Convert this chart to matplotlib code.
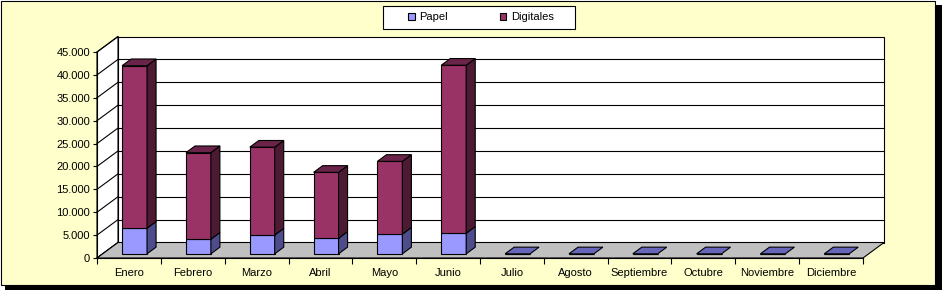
import numpy as np
import matplotlib
matplotlib.use("Agg")
import matplotlib.pyplot as plt
from matplotlib.patches import Rectangle, Polygon, Patch

plt.rcParams['font.family'] = ['Liberation Sans', 'DejaVu Sans']

meses = ["Enero", "Febrero", "Marzo", "Abril", "Mayo", "Junio", "Julio",
         "Agosto", "Septiembre", "Octubre", "Noviembre", "Diciembre"]
papel = [5600, 3200, 4100, 3400, 4300, 4500, 0, 0, 0, 0, 0, 0]
digitales = [35500, 18900, 19200, 14400, 15900, 36700, 0, 0, 0, 0, 0, 0]
yticks = list(range(0, 45001, 5000))

# colores estilo excel
c_papel = ("#9999FF", "#4D4D8C", "#6666BB")   # frente, lado, arriba
c_dig = ("#993366", "#4D1A33", "#6B2449")
bg = "#FFFFCC"

fig = plt.figure(figsize=(9.42, 2.90), dpi=100, facecolor="white")
# marco con sombra
fig.patches.append(Rectangle((5/942, 0), 937/942, 285/290, transform=fig.transFigure,
                             facecolor="black", edgecolor="none", zorder=-10))
fig.patches.append(Rectangle((0.5/942, 5/290), 934/942, 284.5/290, transform=fig.transFigure,
                             facecolor=bg, edgecolor="black", lw=0.8, zorder=-9))
# caja de la leyenda
fig.patches.append(Rectangle((383/942, 1-29/290), 192/942, 23/290, transform=fig.transFigure,
                             facecolor="white", edgecolor="black", lw=0.8, zorder=-8))

ax = fig.add_axes([97/942, 32/290, 766/942, 206/290])
ax.set_xlim(-0.5, 11.5)
ax.set_ylim(0, 45000)
ax.patch.set_visible(False)

n = len(meses)
x = np.arange(n)
DX = 21/63.83          # profundidad en unidades de categoria
DY = 15.5*45000/206    # profundidad en unidades de valor
F0, F1 = 0.27, 0.70
W = 0.39
lw = 0.8
x0, x1 = -0.5, n - 0.5
ymax = yticks[-1]

# paredes y suelo
ax.add_patch(Rectangle((x0+DX, DY), n, ymax, facecolor="white", edgecolor="black",
                       lw=lw, clip_on=False, zorder=0.5))
ax.add_patch(Polygon([(x0, 0), (x0+DX, DY), (x0+DX, ymax+DY), (x0, ymax)],
                     facecolor="white", edgecolor="black", lw=lw, clip_on=False, zorder=0.5))
for v in yticks[1:-1]:
    ax.plot([x0+DX, x1+DX], [v+DY, v+DY], color="black", lw=lw, clip_on=False, zorder=0.6)
for v in yticks:
    ax.plot([x0, x0+DX], [v, v+DY], color="black", lw=lw, clip_on=False, zorder=0.6)
ax.add_patch(Polygon([(x0, 0), (x1, 0), (x1+DX, DY), (x0+DX, DY)],
                     facecolor="#C0C0C0", edgecolor="black", lw=lw, clip_on=False, zorder=0.7))

# barras
xc = x + F0*DX
base = np.full(n, F0*DY)
papel = np.array(papel)
digitales = np.array(digitales)
ddx = (F1-F0)*DX
ddy = (F1-F0)*DY
for vals, bot, cols in [(papel, base, c_papel), (digitales, base+papel, c_dig)]:
    ax.bar(xc, vals, bottom=bot, width=W, color=cols[0], edgecolor="black", lw=lw,
           zorder=2, clip_on=False)
    for i in range(n):
        if vals[i] <= 0:
            continue
        xr = xc[i] + W/2
        yb, yt = bot[i], bot[i] + vals[i]
        ax.add_patch(Polygon([(xr, yb), (xr+ddx, yb+ddy), (xr+ddx, yt+ddy), (xr, yt)],
                             facecolor=cols[1], edgecolor="black", lw=lw, zorder=2,
                             clip_on=False))
for i in range(n):
    total = papel[i] + digitales[i]
    col = c_dig[2] if digitales[i] > 0 else c_papel[2]
    yt = base[i] + total
    xl, xr = xc[i] - W/2, xc[i] + W/2
    ax.add_patch(Polygon([(xl, yt), (xr, yt), (xr+ddx, yt+ddy), (xl+ddx, yt+ddy)],
                         facecolor=col, edgecolor="black", lw=lw, zorder=2.1, clip_on=False))

# ejes
for s in ["top", "right"]:
    ax.spines[s].set_visible(False)
for s in ["left", "bottom"]:
    ax.spines[s].set_linewidth(lw)
    ax.spines[s].set_zorder(3)
ax.set_yticks(yticks, [("{:,}".format(v)).replace(",", ".") for v in yticks], fontsize=8)
ax.tick_params(axis="y", length=3, width=lw, pad=2)
ax.set_xticks(x, meses, fontsize=8)
ax.set_xticks(np.arange(x0, x1+0.01, 1), minor=True)
ax.tick_params(axis="x", which="major", length=0, pad=7)
ax.tick_params(axis="x", which="minor", length=4, width=lw)

handles = [Patch(facecolor=c_papel[0], edgecolor="black", lw=lw),
           Patch(facecolor=c_dig[0], edgecolor="black", lw=lw)]
leg = fig.legend(handles, ["Papel", "Digitales"], ncol=2, loc="center",
                 bbox_to_anchor=(481/942, 1-17.5/290), fontsize=8, frameon=False,
                 handlelength=0.6, handleheight=0.6, handletextpad=0.4,
                 columnspacing=4.65, borderpad=0.5, borderaxespad=0)

fig.savefig("out.png", dpi=100, facecolor=fig.get_facecolor())
